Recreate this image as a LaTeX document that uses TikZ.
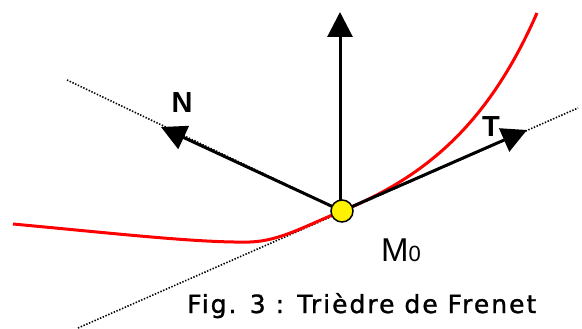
\documentclass[tikz,border=0pt]{standalone}
\usepackage{fontspec}
\setmainfont{Liberation Sans}
\newfontfamily\capfont[LetterSpace=8,FakeBold=1.2]{DejaVu Sans}
\usetikzlibrary{arrows.meta}
\begin{document}
\begin{tikzpicture}[x=1pt,y=-1pt,
  vec/.style={line width=3pt,-{Triangle[length=25pt,width=25pt]}},
  guide/.style={line width=1.6pt,dash pattern=on 1.4pt off 1.6pt},
  curve/.style={red,line width=3pt},
  lbl/.style={inner sep=0pt,font=\bfseries\fontsize{29}{32}\selectfont}]
\useasboundingbox (0,0) rectangle (582,329);
\coordinate (M) at (342,211);
\coordinate (Ntip) at (161,127);
\coordinate (Ttip) at (527,130);
\coordinate (Btip) at (340,12);
\coordinate (Nend) at (67,80);
\coordinate (Tlo) at (78,328);
\coordinate (Thi) at (578,108);
% guides
\draw[guide] (Nend) -- (M);
\draw[guide] (Tlo) -- (Thi);
% curve
\draw[curve] (13,224) .. controls (120,234) and (200,243) .. (250,242)
  .. controls (280,241) and (305,226) .. (M)
  .. controls (430,175) and (490,120) .. (537,13);
% vectors
\draw[vec] (M) -- (Ntip);
\draw[vec] (M) -- (Ttip);
\draw[vec] (340,205) -- (Btip);
\node[circle,draw=black,line width=1.5pt,fill=yellow,minimum size=22pt,inner sep=0pt] (M0) at (M) {};
% labels
\node[lbl] (Nl) at (182,103) {N};
\node[lbl] (Tl) at (491,127) {T};
\node[lbl,anchor=base west,font=\fontsize{33}{35}\selectfont] (Ml) at (381,261) {M\fontsize{22}{24}\selectfont 0};
\node[inner sep=0pt,anchor=base west,font=\capfont\fontsize{25}{27}\selectfont] (cap) at (187,313) {Fig. 3 : Trièdre de Frenet};
\end{tikzpicture}
\end{document}
